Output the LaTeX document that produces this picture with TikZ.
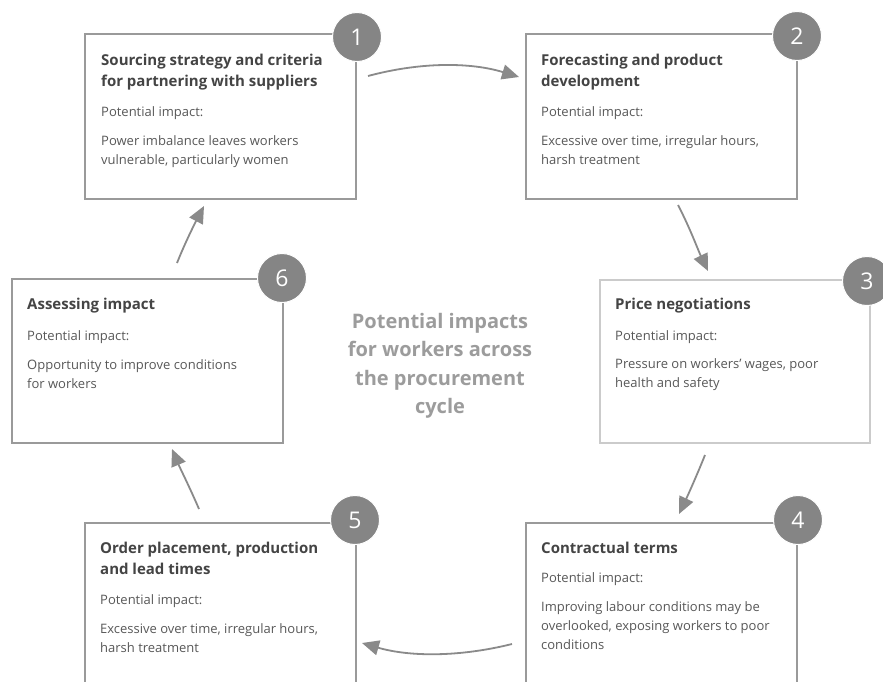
\documentclass[tikz,border=0pt]{standalone}
\usepackage{fontspec}
\setmainfont{Open Sans}
\usetikzlibrary{arrows.meta}
\definecolor{boxline}{HTML}{9A9A9A}
\definecolor{boxlight}{HTML}{CBCBCB}
\definecolor{circ}{HTML}{858585}
\definecolor{titlec}{HTML}{444444}
\definecolor{bodyc}{HTML}{585858}
\definecolor{centerc}{HTML}{9C9C9C}
\definecolor{arrowc}{HTML}{8A8A8A}
\newcommand{\ttl}[1]{\parbox[t]{270pt}{\raggedright\fontsize{15}{21}\selectfont\bfseries #1}}
\newcommand{\lbl}[1]{\parbox[t]{270pt}{\raggedright\fontsize{13}{19}\selectfont #1}}
\begin{document}
\begin{tikzpicture}[x=1pt,y=-1pt,
  stagebox/.style={draw=boxline, line width=2pt, fill=white, anchor=north west, inner sep=0pt, minimum width=271pt},
  numcirc/.style={circle, fill=circ, draw=white, line width=1pt, minimum size=49pt, inner sep=0pt, text=white, font=\fontsize{23}{23}\selectfont},
  titletext/.style={anchor=base west, inner sep=0pt, text=titlec},
  bodytext/.style={anchor=base west, inner sep=0pt, text=bodyc},
  flow/.style={draw=arrowc, line width=1.8pt, -{Triangle[length=17pt,width=15pt]}}]
\useasboundingbox (0,0) rectangle (883,681);
\clip (0,0) rectangle (883,681);
\fill[white] (0,0) rectangle (883,681);

% boxes
\node[stagebox, minimum height=165pt] (b1) at (84,33) {};
\node[stagebox, minimum height=165pt] (b2) at (525,33) {};
\node[stagebox, draw=boxlight, line width=1.5pt, minimum height=163pt, minimum width=270pt] (b3) at (599,279) {};
\node[stagebox, minimum height=164pt] (b6) at (11,278) {};
\node[stagebox, minimum height=200pt] (b5) at (84,522) {};
\node[stagebox, minimum height=200pt] (b4) at (525,522) {};

% number circles
\node[numcirc] (c1) at (357,37) {1};
\node[numcirc] (c2) at (797,36) {2};
\node[numcirc] (c3) at (867,281) {3};
\node[numcirc] (c6) at (282,278) {6};
\node[numcirc] (c5) at (355,520) {5};
\node[numcirc] (c4) at (798,520) {4};

% box 1
\node[titletext] (t1) at (101,65) {\ttl{Sourcing strategy and criteria\\for partnering with suppliers}};
\node[bodytext] (p1) at (101,116) {\lbl{Potential impact:}};
\node[bodytext] (d1) at (101,145) {\lbl{Power imbalance leaves workers\\vulnerable, particularly women}};
% box 2
\node[titletext] (t2) at (541,65) {\ttl{Forecasting and product\\development}};
\node[bodytext] (p2) at (541,116) {\lbl{Potential impact:}};
\node[bodytext] (d2) at (541,145) {\lbl{Excessive over time, irregular hours,\\harsh treatment}};
% box 3
\node[titletext] (t3) at (615,309) {\ttl{Price negotiations}};
\node[bodytext] (p3) at (615,340) {\lbl{Potential impact:}};
\node[bodytext] (d3) at (615,368) {\lbl{Pressure on workers' wages, poor\\health and safety}};
% box 6
\node[titletext] (t6) at (27,309) {\ttl{Assessing impact}};
\node[bodytext] (p6) at (27,340) {\lbl{Potential impact:}};
\node[bodytext] (d6) at (27,369) {\lbl{Opportunity to improve conditions\\for workers}};
% box 5
\node[titletext] (t5) at (100,553) {\ttl{Order placement, production\\and lead times}};
\node[bodytext] (p5) at (100,604) {\lbl{Potential impact:}};
\node[bodytext] (d5) at (100,633) {\lbl{Excessive over time, irregular hours,\\harsh treatment}};
% box 4
\node[titletext] (t4) at (541,553) {\ttl{Contractual terms}};
\node[bodytext] (p4) at (541,582) {\lbl{Potential impact:}};
\node[bodytext] (d4) at (541,611) {\lbl{Improving labour conditions may be\\overlooked, exposing workers to poor\\conditions}};

% centre title
\node[anchor=base, inner sep=0pt, text=centerc] (ctr) at (440,328)
  {\parbox[t]{240pt}{\centering\fontsize{20}{28.5}\selectfont\bfseries Potential impacts\\for workers across\\the procurement\\cycle}};

% arrows
\coordinate (a12s) at (368,76);  \coordinate (a12e) at (519,77);
\coordinate (a23s) at (678,205); \coordinate (a23e) at (708,271);
\coordinate (a34s) at (705,455); \coordinate (a34e) at (679,514);
\coordinate (a45s) at (512,644); \coordinate (a45e) at (362,643);
\coordinate (a56s) at (199,509); \coordinate (a56e) at (172,449);
\coordinate (a61s) at (177,263); \coordinate (a61e) at (204,206);

\draw[flow] (a12s) .. controls (420,62) and (470,62) .. (a12e);
\draw[flow] (a23s) .. controls (690,228) and (698,250) .. (a23e);
\draw[flow] (a34s) .. controls (697,475) and (688,495) .. (a34e);
\draw[flow] (a45s) .. controls (460,657) and (410,657) .. (a45e);
\draw[flow] (a56s) .. controls (190,488) and (180,468) .. (a56e);
\draw[flow] (a61s) .. controls (185,243) and (194,225) .. (a61e);
\end{tikzpicture}
\end{document}
